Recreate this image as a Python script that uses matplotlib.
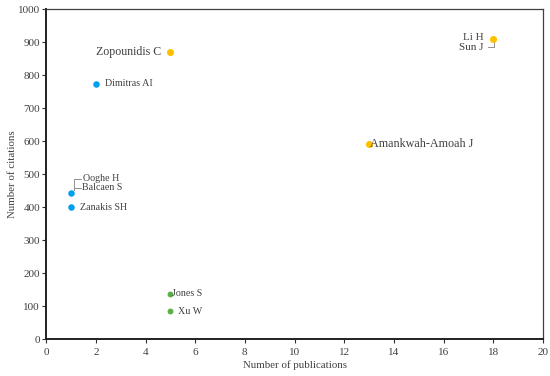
import numpy as np
import matplotlib.pyplot as plt

plt.rcParams['font.family'] = ['Liberation Serif', 'DejaVu Serif']

# authors, publications, citations
names_orange = ['Zopounidis C', 'Li H', 'Sun J', 'Amankwah-Amoah J']
pubs_orange = [5, 18, 13]
cites_orange = [870, 910, 590]

names_blue = ['Dimitras AI', 'Ooghe H', 'Balcaen S', 'Zanakis SH']
pubs_blue = [2, 1, 1]
cites_blue = [773, 443, 400]

names_green = ['Jones S', 'Xu W']
pubs_green = [5, 5]
cites_green = [138, 85]

txt = '#404040'

fig = plt.figure(figsize=(5.5, 3.76), dpi=100)
ax = fig.add_axes([0.084, 0.098, 0.903, 0.878])

ax.scatter(pubs_orange, cites_orange, s=26, color='#FFC000', zorder=3, linewidths=0)
ax.scatter(pubs_blue, cites_blue, s=22, color='#00A0F0', zorder=3, linewidths=0)
ax.scatter(pubs_green, cites_green, s=18, color='#5BB043', zorder=3, linewidths=0)

# labels
ax.text(4.62, 869, names_orange[0], ha='right', va='center', fontsize=8.6, color=txt)
ax.text(17.62, 913, names_orange[1], ha='right', va='center', fontsize=8, color=txt)
ax.text(17.62, 883, names_orange[2], ha='right', va='center', fontsize=8, color=txt)
ax.text(13.03, 590, names_orange[3], ha='left', va='center', fontsize=8.7, color=txt)

ax.text(2.35, 773, names_blue[0], ha='left', va='center', fontsize=7.2, color=txt)
ax.text(1.5, 486, names_blue[1], ha='left', va='center', fontsize=7.2, color=txt)
ax.text(1.45, 458, names_blue[2], ha='left', va='center', fontsize=7.2, color=txt)
ax.text(1.35, 400, names_blue[3], ha='left', va='center', fontsize=7.2, color=txt)

ax.text(5.08, 138, names_green[0], ha='left', va='center', fontsize=7.2, color=txt)
ax.text(5.3, 85, names_green[1], ha='left', va='center', fontsize=7.2, color=txt)

# leader lines
lc = '#909090'
ax.plot([1.12, 1.12, 1.4], [452, 485, 485], color=lc, lw=0.7)
ax.plot([1.15, 1.4], [459, 459], color=lc, lw=0.7)
ax.plot([18.03, 18.03, 17.79], [902, 885, 885], color=lc, lw=0.7)

ax.set_xlim(0, 20)
ax.set_ylim(0, 1000)
ax.set_xticks(np.arange(0, 21, 2))
ax.set_yticks(np.arange(0, 1001, 100))
ax.tick_params(labelsize=8, colors='#303030', length=3, width=0.8, direction='out')
ax.tick_params(axis='y', pad=1.5)
for t in ax.get_xticklabels() + ax.get_yticklabels():
    t.set_color(txt)
for side in ['left', 'bottom']:
    ax.spines[side].set_linewidth(1.4)
    ax.spines[side].set_color('#202020')
for side in ['top', 'right']:
    ax.spines[side].set_linewidth(0.9)
    ax.spines[side].set_color('#404040')

ax.set_xlabel('Number of publications', fontsize=7.8, color=txt, labelpad=2)
ax.set_ylabel('Number of citations', fontsize=7.8, color=txt, labelpad=0.5)

fig.savefig('out.png', dpi=100)
